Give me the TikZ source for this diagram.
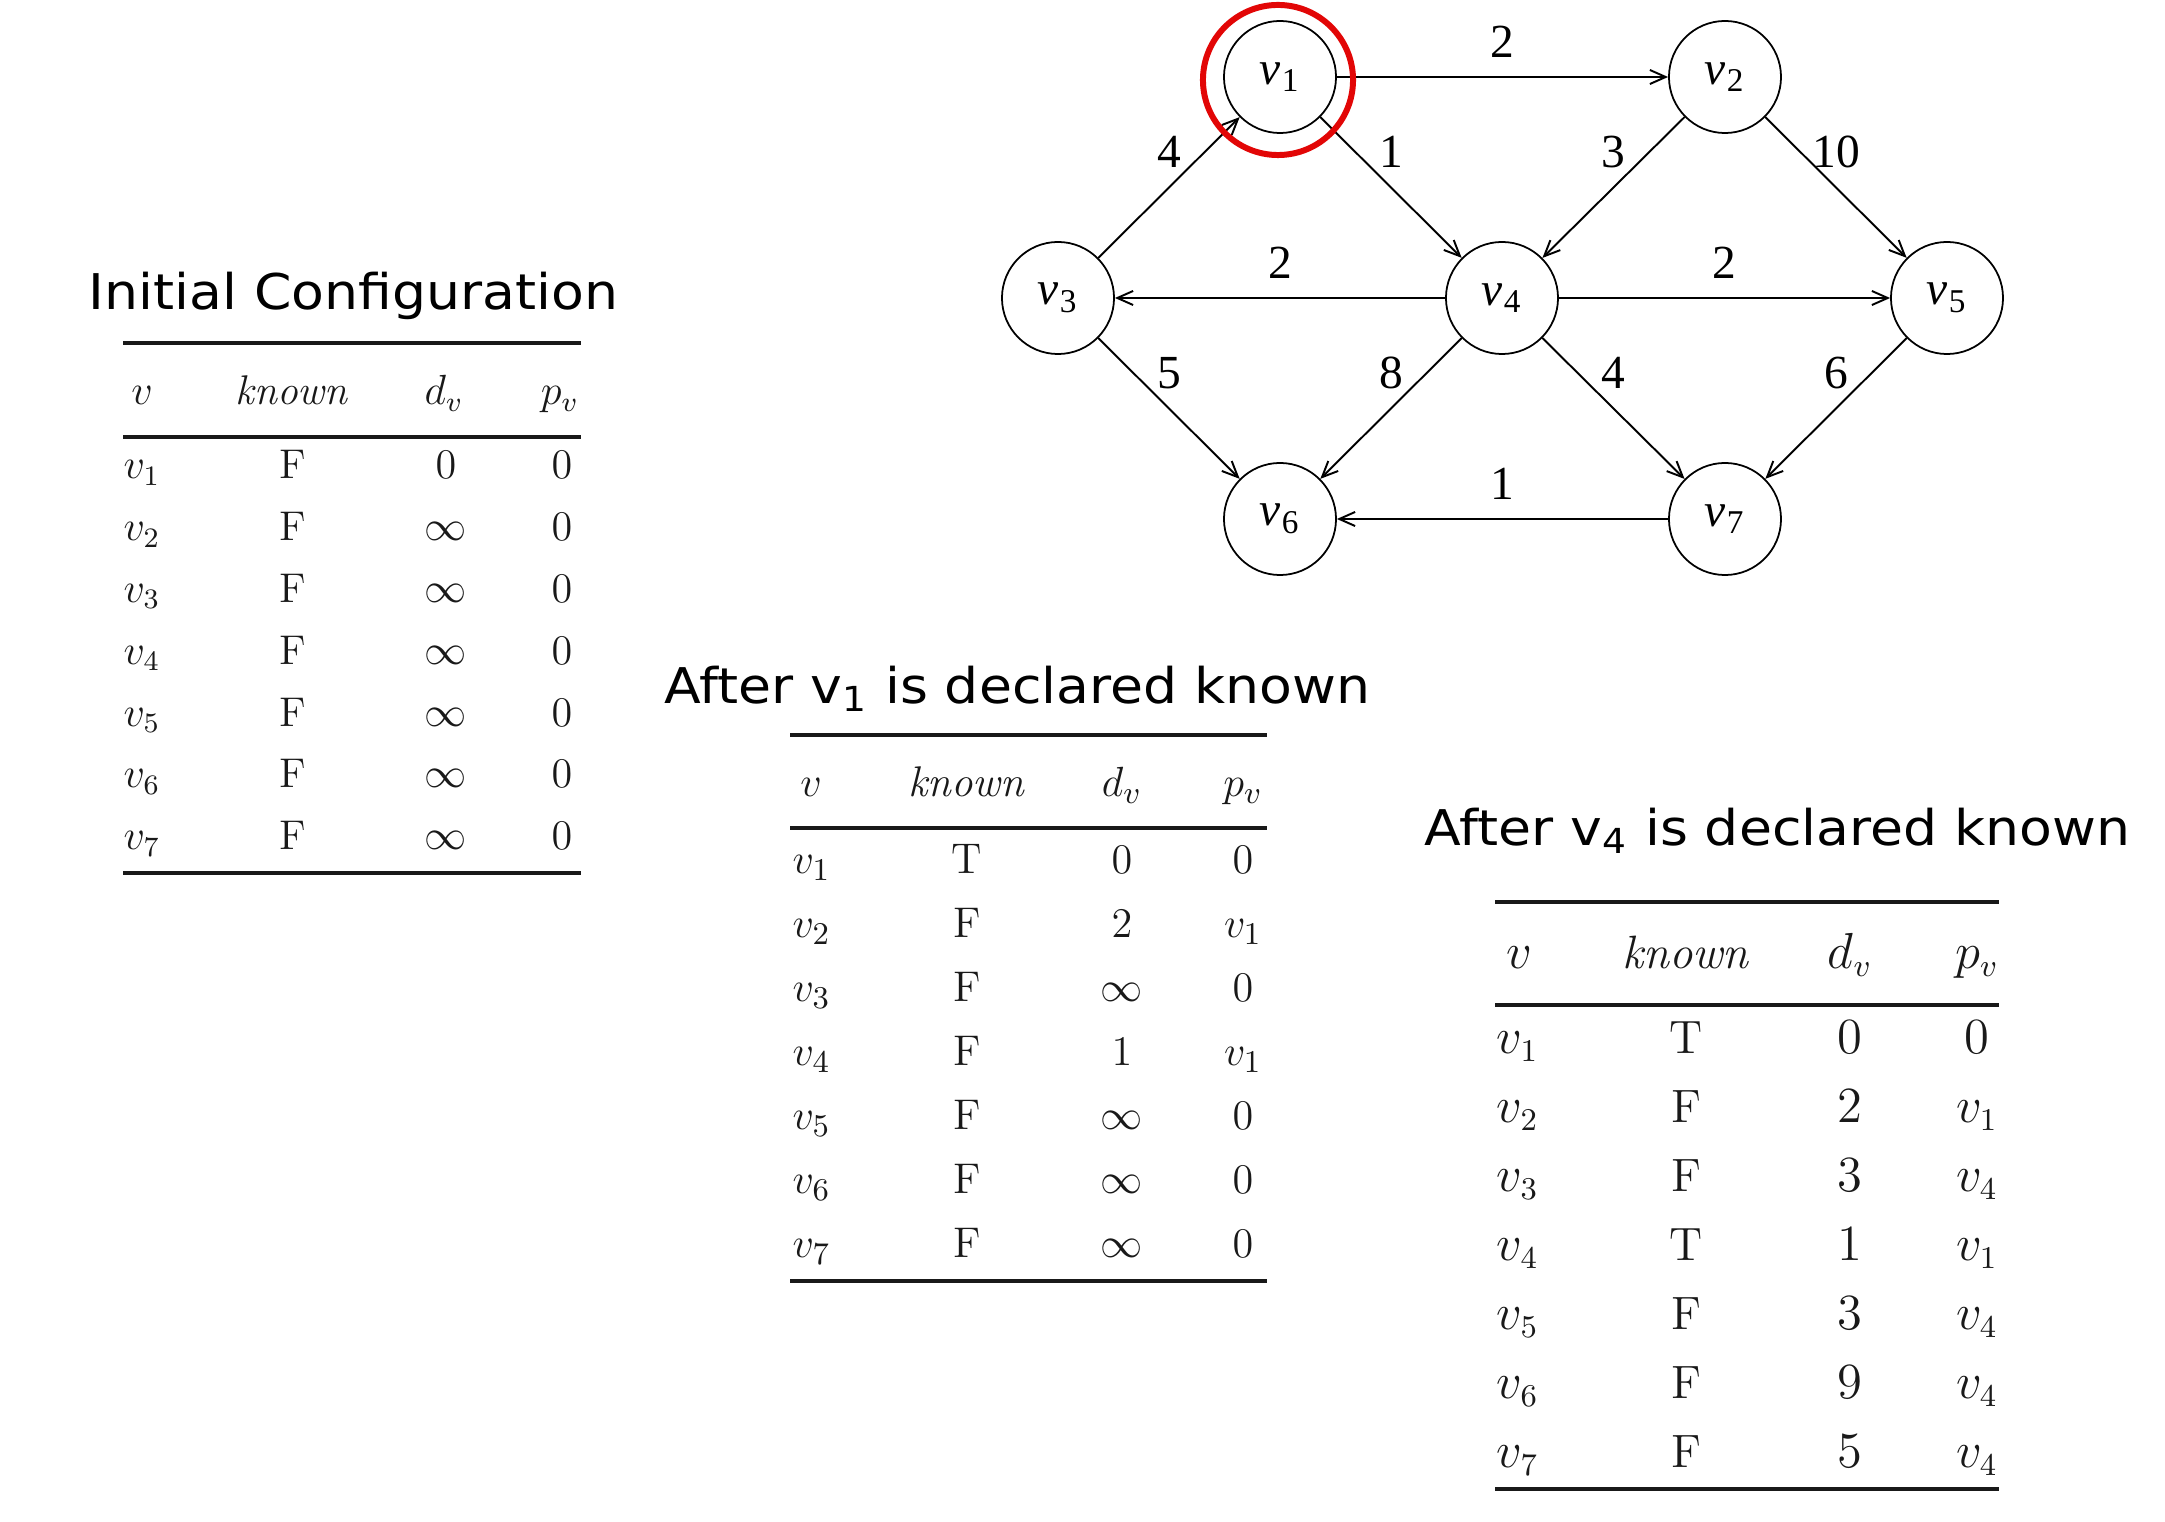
\documentclass[tikz,border=0pt]{standalone}
\usepackage{fontspec}
\newfontfamily\graphfont{Liberation Serif}
\newfontfamily\titlefont[FakeStretch=1.09]{DejaVu Sans}
\usetikzlibrary{arrows.meta}
\definecolor{redc}{RGB}{226,6,6}
\tikzset{
  vert/.style={circle, draw, line width=0.5pt, minimum size=1.12cm, inner sep=0pt,
    font=\graphfont\fontsize{13.5}{15}\selectfont},
  edge/.style={line width=0.55pt, -{Straight Barb[length=4.5pt,width=4pt]}},
  wlab/.style={font=\graphfont\fontsize{13.5}{15}\selectfont, inner sep=0pt, yshift=0.355cm},
  cell/.style={anchor=base, inner sep=0pt},
  lcell/.style={anchor=base west, inner sep=0pt},
  tabrule/.style={line width=0.9pt, black!90},
  ttl/.style={anchor=base west, inner sep=0pt, font=\titlefont\fontsize{14}{16}\selectfont},
  hilite/.style={circle, draw=redc, line width=1.7pt, minimum size=1.5cm, inner sep=0pt}
}
\newcommand\gv[1]{\textit{v}\kern0.3pt\textsubscript{#1}}
\begin{document}
\begin{tikzpicture}[x=0.01cm, y=-0.01cm]
\fill[white] (0,0) rectangle (2165,1522);
\useasboundingbox (0,0) rectangle (2165,1522);

% ---------------- graph ----------------
\node[vert] (v1) at (1280,77) {\gv{1}};
\node[vert] (v2) at (1725,77) {\gv{2}};
\node[vert] (v3) at (1058,298) {\gv{3}};
\node[vert] (v4) at (1502,298) {\gv{4}};
\node[vert] (v5) at (1947,298) {\gv{5}};
\node[vert] (v6) at (1280,519) {\gv{6}};
\node[vert] (v7) at (1725,519) {\gv{7}};

\draw[edge] (v1) -- node[wlab] (w12) {2} (v2);
\draw[edge] (v3) -- node[wlab] (w31) {4} (v1);
\draw[edge] (v1) -- node[wlab] (w14) {1} (v4);
\draw[edge] (v2) -- node[wlab] (w24) {3} (v4);
\draw[edge] (v2) -- node[wlab] (w25) {10} (v5);
\draw[edge] (v4) -- node[wlab] (w43) {2} (v3);
\draw[edge] (v4) -- node[wlab] (w45) {2} (v5);
\draw[edge] (v3) -- node[wlab] (w36) {5} (v6);
\draw[edge] (v4) -- node[wlab] (w46) {8} (v6);
\draw[edge] (v4) -- node[wlab] (w47) {4} (v7);
\draw[edge] (v5) -- node[wlab] (w57) {6} (v7);
\draw[edge] (v7) -- node[wlab] (w76) {1} (v6);

\node[hilite] (hl) at (1278,80) {};

% ---------------- titles ----------------
\node[ttl] (title1) at (88,310) {Initial Configuration};
\node[ttl] (title2) at (664,704) {After v\textsubscript{1} is declared known};
\node[ttl] (title3) at (1424,846) {After v\textsubscript{4} is declared known};

% ---------------- table 1 ----------------
\begin{scope}[font=\fontsize{11.8}{14}\selectfont, text=black!90]
\draw[tabrule] (123,343) -- (581,343);
\draw[tabrule] (123,437) -- (581,437);
\draw[tabrule] (123,873) -- (581,873);
\node[cell] (t1hv) at (142,405) {$v$};
\node[cell] (t1hk) at (292,405) {\textit{known}};
\node[cell] (t1hd) at (444,405) {$d_v$};
\node[cell] (t1hp) at (560,405) {$p_v$};
\foreach \i/\k/\d/\p [count=\n] in {1/F/0/0, 2/F/\infty/0, 3/F/\infty/0, 4/F/\infty/0, 5/F/\infty/0, 6/F/\infty/0, 7/F/\infty/0}{
  \node[lcell] (t1v\n) at (123,{479+61.8*(\n-1)}) {$v_{\i}$};
  \node[cell] (t1k\n) at (293,{479+61.8*(\n-1)}) {\k};
  \node[cell] (t1d\n) at (446,{479+61.8*(\n-1)}) {$\d$};
  \node[cell] (t1p\n) at (562,{479+61.8*(\n-1)}) {$\p$};
}
\end{scope}

% ---------------- table 2 ----------------
\begin{scope}[font=\fontsize{12.2}{14.5}\selectfont, text=black!90]
\draw[tabrule] (790,735) -- (1267,735);
\draw[tabrule] (790,828) -- (1267,828);
\draw[tabrule] (790,1281) -- (1267,1281);
\node[cell] (t2hv) at (811,797) {$v$};
\node[cell] (t2hk) at (967,797) {\textit{known}};
\node[cell] (t2hd) at (1122,797) {$d_v$};
\node[cell] (t2hp) at (1243,797) {$p_v$};
\foreach \i/\k/\d/\p [count=\n] in {1/T/0/0, 2/F/2/v_1, 3/F/\infty/0, 4/F/1/v_1, 5/F/\infty/0, 6/F/\infty/0, 7/F/\infty/0}{
  \node[lcell] (t2v\n) at (792,{874+64*(\n-1)}) {$v_{\i}$};
  \node[cell] (t2k\n) at (967,{874+64*(\n-1)}) {\k};
  \node[cell] (t2d\n) at (1122,{874+64*(\n-1)}) {$\d$};
  \node[cell] (t2p\n) at (1243,{874+64*(\n-1)}) {$\p$};
}
\end{scope}

% ---------------- table 3 ----------------
\begin{scope}[font=\fontsize{13.3}{16}\selectfont, text=black!90]
\draw[tabrule] (1495,902) -- (1999,902);
\draw[tabrule] (1495,1005) -- (1999,1005);
\draw[tabrule] (1495,1489) -- (1999,1489);
\node[cell] (t3hv) at (1519,969) {$v$};
\node[cell] (t3hk) at (1686,969) {\textit{known}};
\node[cell] (t3hd) at (1850,969) {$d_v$};
\node[cell] (t3hp) at (1977,969) {$p_v$};
\foreach \i/\k/\d/\p [count=\n] in {1/T/0/0, 2/F/2/v_1, 3/F/3/v_4, 4/T/1/v_1, 5/F/3/v_4, 6/F/9/v_4, 7/F/5/v_4}{
  \node[lcell] (t3v\n) at (1496,{1054+69*(\n-1)}) {$v_{\i}$};
  \node[cell] (t3k\n) at (1686,{1054+69*(\n-1)}) {\k};
  \node[cell] (t3d\n) at (1850,{1054+69*(\n-1)}) {$\d$};
  \node[cell] (t3p\n) at (1977,{1054+69*(\n-1)}) {$\p$};
}
\end{scope}
\end{tikzpicture}
\end{document}
